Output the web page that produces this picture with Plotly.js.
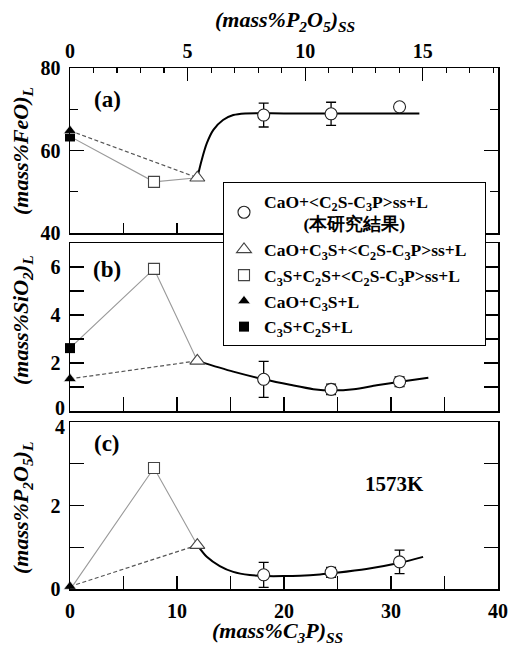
<!DOCTYPE html>
<html><head><meta charset="utf-8">
<script src="https://cdn.plot.ly/plotly-3.0.1.min.js"></script>
<style>html,body{margin:0;padding:0;background:#fff}</style>
</head><body><div id="chart" style="width:509px;height:648px"></div>
<script>
// ---- data (x = mass% C3P in solid solution) ----
const c3pCircle = [18.1, 24.4, 30.8];
const c3pOpenSq = [7.85];
const c3pOpenTri = [11.9];
const c3pFilled = [0];

const feoCircle = [68.6, 68.9, 70.6];
const feoCircleErr = [2.9, 2.8, NaN];
const feoOpenSq = [52.4];
const feoOpenTri = [53.4];
const feoFilledTri = [64.8];
const feoFilledSq = [63.4];

const sio2Circle = [1.32, 0.9, 1.22];
const sio2CircleErr = [0.75, 0.22, 0.2];
const sio2OpenSq = [5.92];
const sio2OpenTri = [2.09];
const sio2FilledTri = [1.34];
const sio2FilledSq = [2.62];

const p2o5Circle = [0.34, 0.4, 0.65];
const p2o5CircleErr = [0.3, 0.12, 0.28];
const p2o5OpenSq = [2.9];
const p2o5OpenTri = [1.05];
const p2o5FilledTri = [0.06];
const p2o5FilledSq = [-0.02];

// fitted curves
const curveFeoX = [11.9, 12.31, 12.78, 13.4, 14.3, 15.26, 16.36, 20, 25, 32.65];
const curveFeoY = [53.4, 57.7, 61.7, 65.0, 67.4, 68.6, 69.0, 69.0, 69.0, 69.0];
const curveSio2X = [11.9, 15.26, 18.13, 20.56, 22.74, 24.6, 26.5, 28.66, 30.84, 33.49];
const curveSio2Y = [2.09, 1.64, 1.32, 1.09, 0.91, 0.86, 0.91, 1.07, 1.22, 1.39];
const curveP2o5X = [11.9, 12.78, 14.0, 15.26, 16.8, 18.38, 19.93, 21.5, 23.36, 24.9, 27.7, 30.84, 33.0];
const curveP2o5Y = [1.05, 0.77, 0.55, 0.41, 0.335, 0.31, 0.31, 0.32, 0.35, 0.39, 0.48, 0.63, 0.77];

// tick labels
const feoTicks = [40, 60, 80];
const sio2Ticks = [2, 4, 6];
const sio2BottomTick = [0];
const p2o5Ticks = [0, 2];
const p2o5TopTick = [4];

const NB = '\u00a0';
const legendNames = [
  'CaO+&lt;C<sub>2</sub>S-C<sub>3</sub>P&gt;ss+L<br>' + NB.repeat(9) + '(本研究結果)',
  'CaO+C<sub>3</sub>S+&lt;C<sub>2</sub>S-C<sub>3</sub>P&gt;ss+L' + NB.repeat(3),
  'C<sub>3</sub>S+C<sub>2</sub>S+&lt;C<sub>2</sub>S-C<sub>3</sub>P&gt;ss+L',
  'CaO+C<sub>3</sub>S+L',
  'C<sub>3</sub>S+C<sub>2</sub>S+L'
];

const W = 509, H = 648;
const serif = 'Liberation Serif, Times New Roman, serif';
const panels = [
  {xa:'x', ya:'y', circ:feoCircle, err:feoCircleErr, sq:feoOpenSq, tri:feoOpenTri, ftri:feoFilledTri, fsq:feoFilledSq, cx:curveFeoX, cy:curveFeoY},
  {xa:'x2', ya:'y2', circ:sio2Circle, err:sio2CircleErr, sq:sio2OpenSq, tri:sio2OpenTri, ftri:sio2FilledTri, fsq:sio2FilledSq, cx:curveSio2X, cy:curveSio2Y},
  {xa:'x3', ya:'y3', circ:p2o5Circle, err:p2o5CircleErr, sq:p2o5OpenSq, tri:p2o5OpenTri, ftri:p2o5FilledTri, fsq:p2o5FilledSq, cx:curveP2o5X, cy:curveP2o5Y}
];

const traces = [];
// invisible traces that activate the helper axes (top P2O5 axis, nudged end tick labels)
traces.push({x:[0], y:[60], xaxis:'x4', yaxis:'y', mode:'markers', marker:{opacity:0}, showlegend:false, hoverinfo:'skip'});
traces.push({x:[0], y:[3], xaxis:'x2', yaxis:'y5', mode:'markers', marker:{opacity:0}, showlegend:false, hoverinfo:'skip'});
traces.push({x:[0], y:[2], xaxis:'x3', yaxis:'y6', mode:'markers', marker:{opacity:0}, showlegend:false, hoverinfo:'skip'});
panels.forEach((p, i) => {
  const first = i === 0;
  traces.push({x:[c3pFilled[0], c3pOpenSq[0], c3pOpenTri[0]], y:[p.fsq[0], p.sq[0], p.tri[0]],
    xaxis:p.xa, yaxis:p.ya, mode:'lines', line:{color:'#9a9a9a', width:1.1}, showlegend:false, hoverinfo:'skip'});
  traces.push({x:[c3pFilled[0], c3pOpenTri[0]], y:[p.ftri[0], p.tri[0]],
    xaxis:p.xa, yaxis:p.ya, mode:'lines', line:{color:'#555', width:1.2, dash:'4px,2.5px'}, showlegend:false, hoverinfo:'skip'});
  traces.push({x:p.cx, y:p.cy, xaxis:p.xa, yaxis:p.ya, mode:'lines',
    line:{color:'#000', width:2, shape:'spline', smoothing:0.8}, showlegend:false, hoverinfo:'skip'});
  traces.push({x:c3pCircle, y:p.circ, xaxis:p.xa, yaxis:p.ya, mode:'markers', name:legendNames[0],
    legendgroup:'c', legendrank:1, showlegend:first, cliponaxis:false,
    error_y:{type:'data', array:p.err, visible:true, color:'#000', thickness:1.3, width:5},
    marker:{symbol:'circle', size:12, color:'#fff', line:{color:'#222', width:1.1}}});
  traces.push({x:c3pOpenTri, y:p.tri, xaxis:p.xa, yaxis:p.ya, mode:'markers', name:legendNames[1],
    legendgroup:'t', legendrank:2, showlegend:first, cliponaxis:false,
    marker:{symbol:'triangle-up', size:13, color:'#fff', line:{color:'#444', width:1.1}}});
  traces.push({x:c3pOpenSq, y:p.sq, xaxis:p.xa, yaxis:p.ya, mode:'markers', name:legendNames[2],
    legendgroup:'s', legendrank:3, showlegend:first, cliponaxis:false,
    marker:{symbol:'square', size:11, color:'#fff', line:{color:'#444', width:1.1}}});
  traces.push({x:c3pFilled, y:p.fsq, xaxis:p.xa, yaxis:p.ya, mode:'markers', name:legendNames[4],
    legendgroup:'fs', legendrank:5, showlegend:first, cliponaxis:false,
    marker:{symbol:'square', size:10, color:'#000', line:{color:'#000', width:0}}});
  traces.push({x:c3pFilled, y:p.ftri, xaxis:p.xa, yaxis:p.ya, mode:'markers', name:legendNames[3],
    legendgroup:'ft', legendrank:4, showlegend:first, cliponaxis:false,
    marker:{symbol:'triangle-up', size:11, color:'#000', line:{color:'#fff', width:0.6}}});
});

const xd = [70/W, 498/W];
const dom = (top, bot) => [(H - bot)/H, (H - top)/H];
const tickFont = {family:serif, size:20, color:'#000', weight:'bold'};
const axBase = {showgrid:false, zeroline:false, showline:true, linecolor:'#000', linewidth:1.5,
  ticks:'inside', tickcolor:'#000', tickwidth:1.2, tickfont:tickFont, fixedrange:true};
const minorY = {dtick:1, ticks:'inside', ticklen:14, tickcolor:'#000', tickwidth:1.2};
const titleFont = {family:serif, size:22, color:'#000', weight:'bold'};
const ann = (text, px, py, extra) => Object.assign({text:text, x:px/W, y:(H-py)/H, xref:'paper', yref:'paper',
  xanchor:'center', yanchor:'middle', showarrow:false, font:titleFont}, extra || {});

const layout = {
  width:W, height:H, margin:{l:0, r:0, t:0, b:0}, paper_bgcolor:'#fff', plot_bgcolor:'#fff',
  font:{family:serif, color:'#000'},
  showlegend:true,
  legend:{x:223/W, y:(H-182)/H, xanchor:'left', yanchor:'top', bgcolor:'#fff', bordercolor:'#000', borderwidth:1,
    font:{family:serif, size:17.5, color:'#000', weight:'bold'}, traceorder:'normal', itemwidth:30, tracegroupgap:0},
  xaxis:Object.assign({}, axBase, {domain:xd, anchor:'y', range:[0,40], dtick:5, ticklen:10, showticklabels:false, mirror:true}),
  xaxis4:Object.assign({}, axBase, {overlaying:'x', side:'top', anchor:'y', range:[0,18.2], dtick:5, ticklen:13,
    minor:{dtick:1, ticks:'inside', ticklen:5, tickcolor:'#000', tickwidth:1.2}, showline:false, ticklabelstandoff:5}),
  yaxis:Object.assign({}, axBase, {domain:dom(68,233), anchor:'x', range:[40,80], tickvals:feoTicks, ticklen:14, mirror:'ticks',
    minor:{dtick:10, ticks:'inside', ticklen:8, tickcolor:'#000', tickwidth:1.2}, ticklabelstandoff:4}),
  xaxis2:Object.assign({}, axBase, {domain:xd, anchor:'y2', range:[0,40], dtick:5, ticklen:14, showticklabels:false, mirror:true}),
  yaxis2:Object.assign({}, axBase, {domain:dom(243,411), anchor:'x2', range:[0,7], tickvals:sio2Ticks, ticklen:14, mirror:'ticks',
    minor:minorY, ticklabelstandoff:4}),
  // label-only helper: its range is offset a few pixels so the "0" sits just above the panel corner
  yaxis5:Object.assign({}, axBase, {overlaying:'y2', anchor:'x2', side:'left', range:[-0.125, 6.875], tickvals:sio2BottomTick,
    ticks:'', showline:false, ticklabelstandoff:4}),
  xaxis3:Object.assign({}, axBase, {domain:xd, anchor:'y3', range:[0,40], dtick:10, ticklen:13, mirror:true,
    minor:{dtick:5, ticks:'inside', ticklen:13, tickcolor:'#000', tickwidth:1.2}, ticklabelstandoff:3}),
  yaxis3:Object.assign({}, axBase, {domain:dom(422,589), anchor:'x3', range:[0,4], tickvals:p2o5Ticks, ticklen:14, mirror:'ticks',
    minor:minorY, ticklabelstandoff:4}),
  // label-only helper: the "4" sits just below the panel corner
  yaxis6:Object.assign({}, axBase, {overlaying:'y3', anchor:'x3', side:'left', range:[0.12, 4.12], tickvals:p2o5TopTick,
    ticks:'', showline:false, ticklabelstandoff:4}),
  annotations:[
    ann('<i>(mass%P<sub>2</sub>O<sub>5</sub>)<sub>SS</sub></i>', 285, 21),
    ann('<i>(mass%C<sub>3</sub>P)<sub>SS</sub></i>', 277, 632),
    ann('<i>(mass%FeO)<sub>L</sub></i>', 22, 151, {textangle:-90}),
    ann('<i>(mass%SiO<sub>2</sub>)<sub>L</sub></i>', 22, 320, {textangle:-90}),
    ann('<i>(mass%P<sub>2</sub>O<sub>5</sub>)<sub>L</sub></i>', 22, 508, {textangle:-90}),
    ann('(a)', 107, 99, {font:{family:serif, size:23, color:'#000', weight:'bold'}}),
    ann('(b)', 107, 269, {font:{family:serif, size:23, color:'#000', weight:'bold'}}),
    ann('(c)', 107, 443, {font:{family:serif, size:23, color:'#000', weight:'bold'}}),
    ann('1573K', 394, 484, {font:{family:serif, size:21, color:'#000', weight:'bold'}})
  ]
};

Plotly.newPlot('chart', traces, layout, {staticPlot:true});
</script></body></html>
